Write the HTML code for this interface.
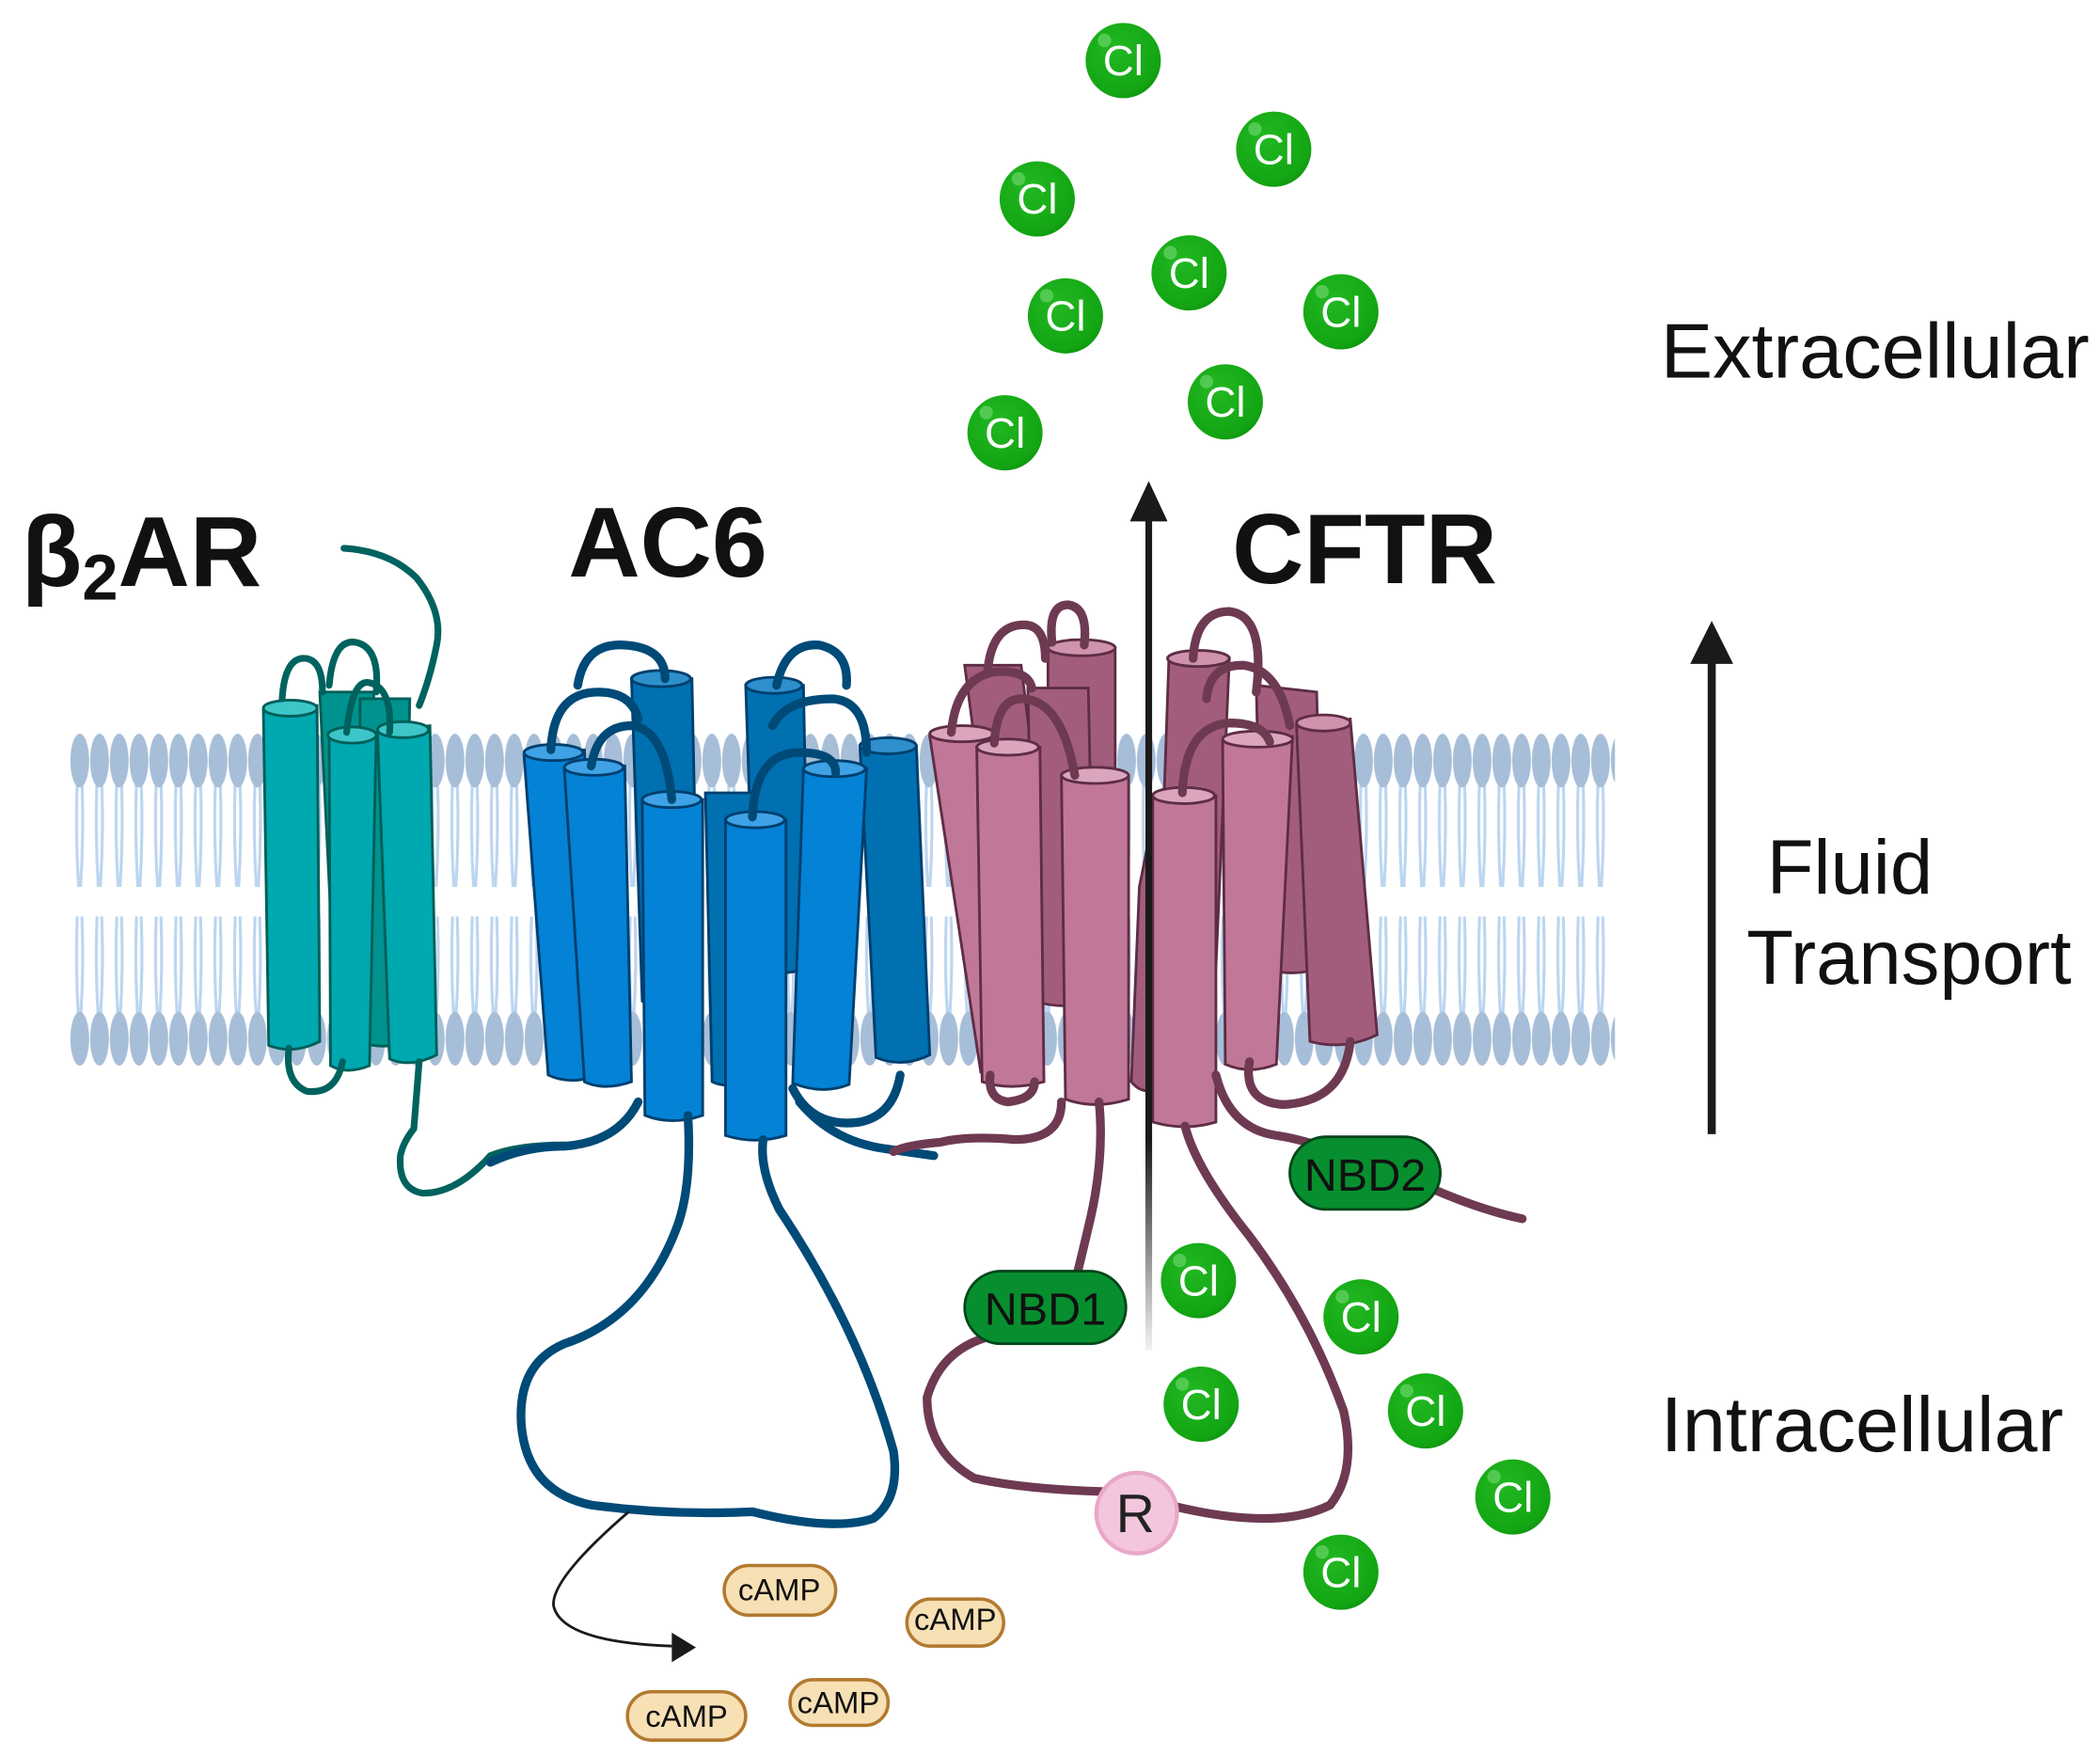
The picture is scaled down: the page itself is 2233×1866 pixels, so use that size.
<!DOCTYPE html>
<html><head><meta charset="utf-8"><style>
html,body{margin:0;padding:0;background:#fff}
svg{display:block}
text{font-family:"Liberation Sans",sans-serif}
</style></head><body>
<svg width="2233" height="1866" viewBox="0 0 1563 1306" xmlns="http://www.w3.org/2000/svg">
<defs>
<pattern id="lip" x="52" y="0" width="14.7" height="1306" patternUnits="userSpaceOnUse">
<path d="M5.5 580 Q4 620 6.5 660 M9 580 Q10.5 620 8 660 M5.5 682 Q4 720 6.5 758 M9 682 Q10.5 720 8 758" stroke="#bcd5f0" stroke-width="2.2" fill="none"/>
<ellipse cx="7.35" cy="566" rx="7" ry="20" fill="#a7bed8"/>
<ellipse cx="7.35" cy="773" rx="7" ry="20" fill="#a7bed8"/>
</pattern>
<radialGradient id="clg" cx="0.4" cy="0.35" r="0.7"><stop offset="0" stop-color="#22b822"/><stop offset="0.85" stop-color="#13a513"/><stop offset="1" stop-color="#0f9410"/></radialGradient>
<linearGradient id="fade" x1="0" y1="0" x2="0" y2="1"><stop offset="0" stop-color="#1a1a1a"/><stop offset="0.75" stop-color="#1a1a1a"/><stop offset="1" stop-color="#1a1a1a" stop-opacity="0.05"/></linearGradient>
<g id="cl"><circle r="28" fill="url(#clg)"/><circle cx="-14" cy="-15" r="5" fill="#5fd05f" opacity="0.8"/><text x="0" y="11" font-size="32" fill="#fff" text-anchor="middle">Cl</text></g>
</defs>
<rect x="52" y="540" width="1150" height="255" fill="url(#lip)"/>

<!-- ===== beta2AR ===== -->
<g stroke="#00625e" stroke-width="2.5" fill="none" stroke-linecap="round">
<path d="M256 408 Q290 410 310 430 Q330 455 325 480 Q320 505 312 525" stroke-width="5"/>
</g>
<g stroke="#005f58" stroke-width="2">
<path d="M238 515 L278 515 L290 760 Q270 768 250 760 Z" fill="#00928e"/>
<path d="M268 520 L305 520 L300 775 Q285 782 268 775 Z" fill="#00928e"/>
<path d="M196 528 L236 525 L238 775 Q218 785 200 778 Z" fill="#00a8b0"/>
<path d="M245 548 L280 546 L275 793 Q258 800 246 793 Z" fill="#00a8b0"/>
<path d="M281 545 L320 540 L325 785 Q305 795 290 788 Z" fill="#00a8b0"/>
<ellipse cx="216" cy="527" rx="20" ry="6" fill="#3cc6c8"/>
<ellipse cx="262" cy="547" rx="18" ry="6" fill="#3cc6c8"/>
<ellipse cx="300" cy="543" rx="19" ry="6" fill="#3cc6c8"/>
</g>
<g stroke="#00625e" stroke-width="5" fill="none" stroke-linecap="round">
<path d="M210 520 Q212 488 228 490 Q240 492 240 515"/>
<path d="M245 510 Q248 475 265 478 Q283 482 280 515"/>
<path d="M258 545 Q262 505 275 508 Q292 512 290 545"/>
<path d="M312 790 L308 840 Q300 850 298 860 Q296 885 315 888 Q340 888 365 860 Q385 852 420 852"/>
<path d="M215 780 Q212 805 228 812 Q250 815 255 790"/>
</g>

<!-- ===== AC6 ===== -->
<g stroke="#003f6e" stroke-width="2">
<path d="M470 505 L515 505 L520 745 Q495 752 478 745 Z" fill="#0070b0"/>
<path d="M555 510 L598 510 L602 720 Q580 728 562 720 Z" fill="#0070b0"/>
<path d="M640 555 L682 555 L692 785 Q672 795 652 787 Z" fill="#0070b0"/>
<path d="M525 590 L560 590 L555 805 Q540 810 530 805 Z" fill="#0070b0"/>
<path d="M390 562 L435 558 L445 800 Q425 808 408 800 Z" fill="#0482d6"/>
<path d="M420 572 L465 570 L470 805 Q450 812 435 805 Z" fill="#0482d6"/>
<path d="M598 572 L645 572 L632 807 Q612 815 590 806 Z" fill="#0482d6"/>
<path d="M478 595 L523 595 L523 830 Q500 838 480 830 Z" fill="#0482d6"/>
<path d="M540 610 L585 610 L585 845 Q562 852 540 845 Z" fill="#0482d6"/>
<ellipse cx="492" cy="505" rx="22" ry="6" fill="#2e8fcc"/>
<ellipse cx="576" cy="510" rx="21" ry="6" fill="#2e8fcc"/>
<ellipse cx="661" cy="555" rx="21" ry="6" fill="#2e8fcc"/>
<ellipse cx="412" cy="560" rx="22" ry="6" fill="#3fa2e6"/>
<ellipse cx="442" cy="571" rx="22" ry="6" fill="#3fa2e6"/>
<ellipse cx="621" cy="572" rx="23" ry="6" fill="#3fa2e6"/>
<ellipse cx="500" cy="595" rx="22" ry="6" fill="#3fa2e6"/>
<ellipse cx="562" cy="610" rx="22" ry="6" fill="#3fa2e6"/>
</g>
<g stroke="#004a78" stroke-width="6.5" fill="none" stroke-linecap="round">
<path d="M430 510 Q435 478 465 480 Q495 482 495 505"/>
<path d="M410 558 Q412 515 445 515 Q470 515 475 535"/>
<path d="M440 570 Q445 540 470 540 Q495 542 500 595"/>
<path d="M578 510 Q585 478 610 480 Q632 485 630 510"/>
<path d="M575 540 Q585 520 620 520 Q645 522 645 560"/>
<path d="M560 608 Q562 560 595 560 Q622 560 622 575"/>
<path d="M512 830 Q515 880 505 910 Q480 980 420 1000 Q385 1015 388 1060 Q392 1110 440 1120 Q500 1128 560 1125 Q620 1140 650 1130 Q670 1115 665 1080 Q640 990 580 900 Q565 870 568 848"/>
<path d="M475 820 Q460 850 420 853 Q390 853 365 865"/>
<path d="M590 810 Q605 840 640 835 Q665 830 670 800"/>
<path d="M595 820 Q620 850 660 855 L695 860"/>
</g>

<!-- ===== CFTR ===== -->
<g stroke="#5e2d45" stroke-width="2">
<path d="M780 482 L830 482 L830 700 Q805 708 780 700 Z" fill="#a35d7c"/>
<path d="M718 495 L760 495 L790 740 Q770 748 750 740 Z" fill="#a35d7c"/>
<path d="M765 512 L810 512 L815 745 Q792 752 770 745 Z" fill="#a35d7c"/>
<path d="M870 490 L915 490 L905 720 Q880 728 862 720 Z" fill="#a35d7c"/>
<path d="M935 510 L980 515 L985 720 Q960 728 940 720 Z" fill="#a35d7c"/>
<path d="M848 660 L862 590 L860 810 Q850 815 842 805 Z" fill="#a35d7c"/>
<path d="M965 540 L1005 535 L1025 770 Q1000 782 975 775 Z" fill="#a35d7c"/>
<path d="M692 548 L740 543 L772 795 Q752 803 730 798 Z" fill="#c17898"/>
<path d="M727 556 L774 556 L777 805 Q752 812 731 805 Z" fill="#c17898"/>
<path d="M790 577 L840 577 L840 818 Q815 826 793 818 Z" fill="#c17898"/>
<path d="M858 592 L905 592 L905 835 Q882 842 858 835 Z" fill="#c17898"/>
<path d="M910 552 L962 548 L950 792 Q930 800 912 792 Z" fill="#c17898"/>
<ellipse cx="805" cy="482" rx="25" ry="6" fill="#cf93ad"/>
<ellipse cx="892" cy="490" rx="23" ry="6" fill="#cf93ad"/>
<ellipse cx="716" cy="546" rx="24" ry="6" fill="#dba6bd"/>
<ellipse cx="750" cy="556" rx="23" ry="6" fill="#dba6bd"/>
<ellipse cx="815" cy="577" rx="25" ry="6" fill="#dba6bd"/>
<ellipse cx="881" cy="592" rx="23" ry="6" fill="#dba6bd"/>
<ellipse cx="936" cy="550" rx="26" ry="6" fill="#dba6bd"/>
<ellipse cx="985" cy="538" rx="20" ry="6" fill="#cf93ad"/>
</g>
<g stroke="#6e3a52" stroke-width="6.5" fill="none" stroke-linecap="round">
<path d="M735 500 Q738 465 762 465 Q778 465 778 490"/>
<path d="M783 478 Q780 450 795 450 Q810 452 807 480"/>
<path d="M708 545 Q712 505 740 500 Q765 498 768 512"/>
<path d="M740 553 Q742 520 760 520 Q790 520 800 577"/>
<path d="M888 490 Q890 455 915 455 Q942 458 935 515"/>
<path d="M898 520 Q900 495 925 495 Q952 498 960 540"/>
<path d="M880 590 Q882 540 915 538 Q940 538 945 552"/>
<path d="M818 820 Q822 860 812 905 Q805 935 800 955 M735 995 Q700 1005 690 1040 Q690 1080 725 1100 Q760 1108 820 1110 Q850 1115 870 1120 Q950 1140 990 1120 Q1010 1095 1000 1050 Q975 980 930 920 Q890 870 882 838"/>
<path d="M737 800 Q735 818 750 820 Q770 818 770 805"/>
<path d="M905 800 Q915 840 950 845 Q985 850 1060 882 Q1100 900 1133 907"/>
<path d="M930 790 Q925 820 955 822 Q1000 820 1005 775"/>
<path d="M790 820 Q790 848 755 848 Q720 845 700 850 Q675 852 665 857"/>
</g>
<rect x="718" y="946" width="120" height="54" rx="27" fill="#078f2f" stroke="#04461a" stroke-width="2"/>
<text x="778" y="986" font-size="34" text-anchor="middle" fill="#111">NBD1</text>
<rect x="960" y="846" width="112" height="54" rx="27" fill="#078f2f" stroke="#04461a" stroke-width="2"/>
<text x="1016" y="886" font-size="34" text-anchor="middle" fill="#111">NBD2</text>
<circle cx="846" cy="1126" r="30" fill="#f4c6dd" stroke="#e9a8c8" stroke-width="3"/>
<text x="845" y="1140" font-size="40" text-anchor="middle" fill="#222">R</text>

<rect x="852.5" y="380" width="5" height="625" fill="url(#fade)"/>
<path d="M855 358 L841 388 L869 388 Z" fill="#1a1a1a"/>
<rect x="1271" y="485" width="6" height="359" fill="#1a1a1a"/>
<path d="M1274 462 L1258 494 L1290 494 Z" fill="#1a1a1a"/>

<path d="M468 1125 Q410 1175 412 1195 Q418 1222 500 1225" stroke="#1a1a1a" stroke-width="2" fill="none"/>
<path d="M500 1215 L518 1226 L500 1237 Z" fill="#1a1a1a"/>
<g stroke="#b27a30" stroke-width="2.5" fill="#f7e0b4">
<rect x="539" y="1165" width="83" height="37" rx="18.5"/>
<rect x="675" y="1190" width="72" height="35" rx="17.5"/>
<rect x="467" y="1259" width="88" height="36" rx="18"/>
<rect x="588" y="1250" width="73" height="34" rx="17"/>
</g>
<g font-size="23" fill="#111" text-anchor="middle">
<text x="580" y="1191">cAMP</text>
<text x="711" y="1213">cAMP</text>
<text x="511" y="1285">cAMP</text>
<text x="624" y="1275">cAMP</text>
</g>

<use href="#cl" x="836" y="45"/>
<use href="#cl" x="948" y="111"/>
<use href="#cl" x="772" y="148"/>
<use href="#cl" x="885" y="203"/>
<use href="#cl" x="793" y="235"/>
<use href="#cl" x="998" y="232"/>
<use href="#cl" x="912" y="299"/>
<use href="#cl" x="748" y="322"/>
<use href="#cl" x="892" y="953"/>
<use href="#cl" x="1013" y="980"/>
<use href="#cl" x="894" y="1045"/>
<use href="#cl" x="1061" y="1050"/>
<use href="#cl" x="1126" y="1114"/>
<use href="#cl" x="998" y="1170"/>

<g font-weight="bold" fill="#111">
<text x="16" y="436" font-size="74">β<tspan font-size="48" dy="10">2</tspan><tspan dy="-10">AR</tspan></text>
<text x="423" y="429" font-size="74">AC6</text>
<text x="917" y="434" font-size="74">CFTR</text>
</g>
<g fill="#111">
<text x="1236" y="281" font-size="58">Extracellular</text>
<text x="1315" y="665" font-size="57">Fluid</text>
<text x="1300" y="732" font-size="57">Transport</text>
<text x="1236" y="1080" font-size="58">Intracellular</text>
</g>
</svg>
</body></html>
